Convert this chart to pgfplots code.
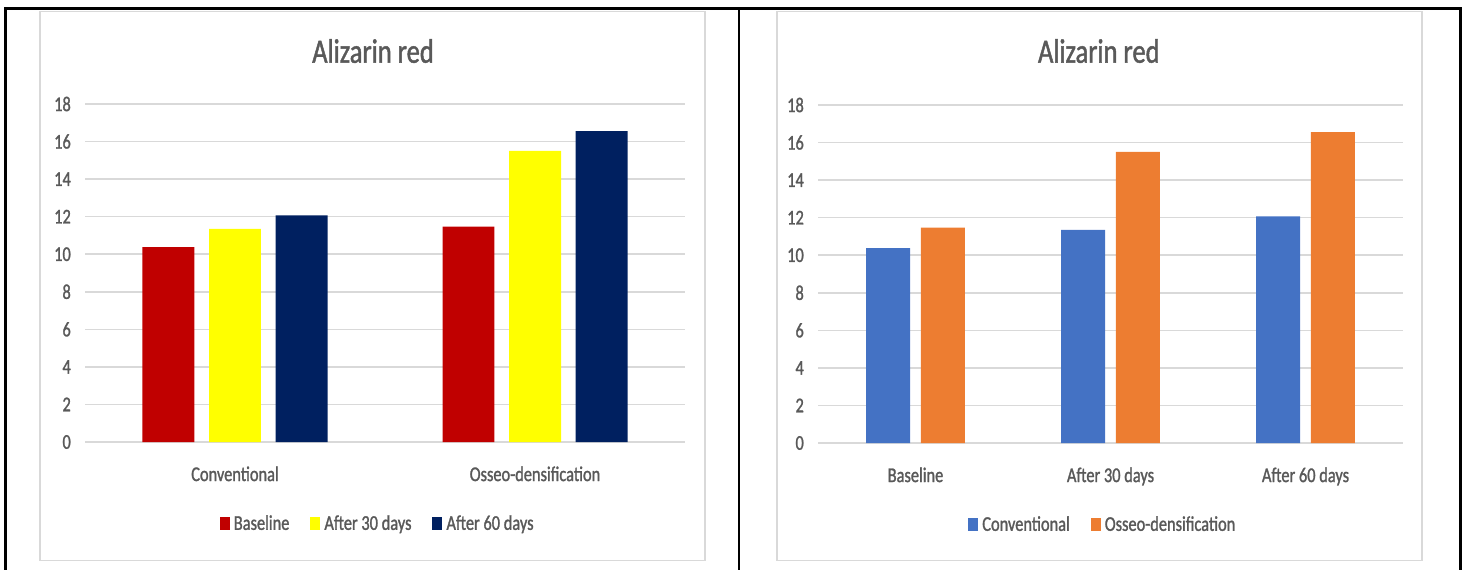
\documentclass[border=0pt]{standalone}
\usepackage{fontspec}
\setmainfont{Carlito}[FakeStretch=0.78, FakeBold=1.3]
\usepackage{pgfplots}
\pgfplotsset{compat=1.18}
\definecolor{txt}{HTML}{595959}
\definecolor{gridc}{HTML}{D9D9D9}
\definecolor{cred}{HTML}{C00000}
\definecolor{cyel}{HTML}{FFFF00}
\definecolor{cnavy}{HTML}{002060}
\definecolor{cblue}{HTML}{4472C4}
\definecolor{corange}{HTML}{ED7D31}
\pgfplotsset{
  mystyle/.style={
    scale only axis,
    height=338pt,
    ymin=0, ymax=18,
    ytick={0,2,...,18},
    enlargelimits=false,
    axis line style={draw=none},
    tick style={draw=none},
    ymajorgrids,
    grid style={gridc, line width=1.6pt},
    ybar,
    /pgf/number format/assume math mode=true,
    ticklabel style={font=\fontsize{21}{25}\selectfont, text=txt},
    yticklabel style={anchor=east, inner sep=0pt, xshift=-14pt},
    xticklabel style={anchor=north, inner sep=0pt, yshift=-20pt},
    title style={font=\fontsize{34}{40}\selectfont, text=txt, anchor=center, inner sep=0pt},
    legend columns=-1,
    legend style={draw=none, fill=none, anchor=center, inner sep=0pt,
      font=\fontsize{21}{24}\selectfont, text=txt,
      nodes={inner sep=1pt},
      /tikz/every even column/.append style={column sep=20pt}},
    legend image code/.code={\fill[#1,draw=none] (0pt,-6.5pt) rectangle (10pt,6.5pt); \path (13pt,0pt);},
  }
}
\begin{document}
\begin{tikzpicture}
\useasboundingbox (0,0) rectangle (1463pt,570pt);
% table borders
\draw[black, line width=2.8pt] (4pt,561.3pt) -- (1462pt,561.3pt);
\draw[black, line width=3pt] (5.5pt,562.7pt) -- (5.5pt,0pt);
\draw[black, line width=2.6pt] (738.8pt,562.7pt) -- (738.8pt,0pt);
\draw[black, line width=3pt] (1460.5pt,562.7pt) -- (1460.5pt,0pt);
% chart frames
\draw[gridc, line width=1.8pt] (40pt,558.5pt) rectangle (705pt,9.5pt);
\draw[gridc, line width=1.8pt] (777pt,558.5pt) rectangle (1422pt,9.5pt);

\begin{axis}[mystyle,
  at={(85pt,128pt)}, anchor=south west,
  width=600pt,
  xmin=-0.5, xmax=1.5,
  xtick={0,1}, xticklabels={Conventional, Osseo-densification},
  bar width=0.1733,
  title={Alizarin red},
  title style={at={(0.48,1.139)}},
  legend style={at={(0.487,-0.2405)}},
]
\addplot[fill=cred, draw=none, bar shift=-0.2217] coordinates {(0,10.38) (1,11.47)};
\addplot[fill=cyel, draw=none, bar shift=0] coordinates {(0,11.35) (1,15.5)};
\addplot[fill=cnavy, draw=none, bar shift=0.2217] coordinates {(0,12.07) (1,16.56)};
\legend{Baseline, After 30 days, After 60 days}
\end{axis}

\begin{axis}[mystyle,
  at={(818pt,127pt)}, anchor=south west,
  width=585pt,
  xmin=-0.5, xmax=2.5,
  xtick={0,1,2}, xticklabels={Baseline, After 30 days, After 60 days},
  bar width=0.2256,
  title={Alizarin red},
  title style={at={(0.48,1.142)}},
  legend style={at={(0.486,-0.2405)}},
]
\addplot[fill=cblue, draw=none, bar shift=-0.14] coordinates {(0,10.38) (1,11.35) (2,12.07)};
\addplot[fill=corange, draw=none, bar shift=0.14] coordinates {(0,11.47) (1,15.5) (2,16.56)};
\legend{Conventional, Osseo-densification}
\end{axis}
\end{tikzpicture}
\end{document}
